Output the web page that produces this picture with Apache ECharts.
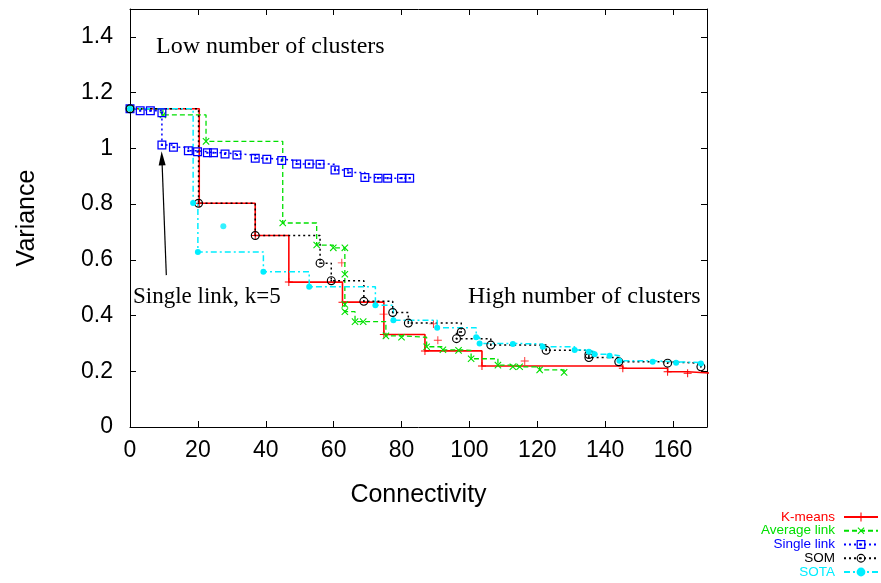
<!DOCTYPE html>
<html>
<head>
<meta charset="utf-8">
<script src="https://cdn.jsdelivr.net/npm/echarts@6/dist/echarts.min.js"></script>
<style>
  html, body { margin: 0; padding: 0; background: #fff; }
  #chart { width: 881px; height: 583px; }
</style>
</head>
<body>
<div id="chart"></div>
<script>
// step curves (x = connectivity, y = variance)
const kmX = [0, 20.4, 36.9, 46.8, 62.6, 74.8, 86.9, 103.7, 145.2, 158.4, 164.3, 172];
const kmY = [1.142, 0.803, 0.687, 0.520, 0.448, 0.332, 0.273, 0.219, 0.211, 0.198, 0.193, 0.193];
const kmExtraX = [62.4, 74.7, 89.4, 90.7, 116.3];
const kmExtraY = [0.589, 0.405, 0.370, 0.311, 0.237];

const avgX = [0, 9.7, 22.4, 45.0, 55.0, 59.9, 63.3, 63.3, 63.3, 63.3, 66.3, 68.7, 75.4, 80.0, 87.4, 92.2, 96.8, 100.5, 108.4, 112.8, 114.8, 120.7, 127.9];
const avgY = [1.142, 1.12, 1.025, 0.732, 0.653, 0.643, 0.643, 0.548, 0.440, 0.414, 0.378, 0.378, 0.327, 0.322, 0.288, 0.277, 0.275, 0.245, 0.222, 0.216, 0.216, 0.205, 0.196];

const slX = [0, 3.0, 6.0, 9.4, 9.4, 12.8, 17.2, 19.9, 22.8, 24.6, 28.0, 31.5, 36.9, 40.3, 44.7, 49.1, 52.8, 56.0, 60.4, 64.3, 69.2, 73.1, 75.9, 80.0, 82.4];
const slY = [1.142, 1.135, 1.135, 1.128, 1.012, 1.004, 0.991, 0.988, 0.984, 0.984, 0.980, 0.976, 0.964, 0.961, 0.956, 0.944, 0.944, 0.943, 0.922, 0.913, 0.895, 0.893, 0.893, 0.893, 0.893];

const somX = [0, 20.2, 36.9, 56.0, 59.3, 68.9, 77.4, 82.0, 97.6, 96.2, 106.3, 122.6, 135.2, 135.2, 144.0, 158.4, 168.2];
const somY = [1.142, 0.803, 0.687, 0.588, 0.525, 0.451, 0.411, 0.373, 0.341, 0.317, 0.294, 0.275, 0.260, 0.249, 0.234, 0.229, 0.216];

const sotaX = [0, 18.6, 20.0, 39.3, 52.8, 72.3, 77.6, 90.5, 102.0, 103.0, 112.8, 121.6, 131.0, 135.2, 136.9, 141.3, 144.2, 154.0, 160.9, 168.2];
const sotaY = [1.142, 0.804, 0.628, 0.557, 0.503, 0.437, 0.383, 0.356, 0.322, 0.300, 0.298, 0.288, 0.276, 0.270, 0.261, 0.256, 0.238, 0.234, 0.231, 0.228];
const sotaExtraX = [27.5];
const sotaExtraY = [0.720];

// arrow for the "Single link, k=5" note: tail then head
const arrowX = [10.7, 9.4];
const arrowY = [0.545, 0.964];

const names = ['K-means', 'Average link', 'Single link', 'SOM', 'SOTA'];

const pts = (xs, ys) => xs.map((x, i) => [x, ys[i]]);

const plusPath = 'path://M4.4,0H5.6V4.4H10V5.6H5.6V10H4.4V5.6H0V4.4H4.4Z';
const squarePath = 'path://M0,0H10V10H0ZM1.4,1.4V8.6H8.6V1.4ZM3.8,3.8H6.2V6.2H3.8Z';
const circlePath = 'path://M10,5A5,5,0,1,1,0,5A5,5,0,1,1,10,5ZM8.7,5A3.7,3.7,0,1,0,1.3,5A3.7,3.7,0,1,0,8.7,5ZM6,5A1,1,0,1,1,4,5A1,1,0,1,1,6,5Z';

const RED = '#ff0000', GREEN = '#00e000', BLUE = '#0000ff', BLACK = '#000000', CYAN = '#00eeff';
const colors = [RED, GREEN, BLUE, BLACK, CYAN];
const sans = 'Liberation Sans, Arial, Helvetica, sans-serif';
const serif = 'Liberation Serif, Times New Roman, serif';

const chart = echarts.init(document.getElementById('chart'));

const stepSeries = (name, data, color, type, symbol, size, width, rotate) => ({
    name: name,
    type: 'line',
    step: 'end',
    data: data,
    symbol: symbol,
    symbolSize: size,
    symbolRotate: rotate || 0,
    showAllSymbol: true,
    clip: true,
    lineStyle: { color: color, width: width, type: type },
    itemStyle: { color: color, borderWidth: 0 },
    emphasis: { disabled: true },
    animation: false
});

const extraSeries = (name, data, color, symbol, size, rotate) => ({
    name: name,
    type: 'scatter',
    data: data,
    symbol: symbol,
    symbolSize: size,
    symbolRotate: rotate || 0,
    itemStyle: { color: color },
    emphasis: { disabled: true },
    animation: false
});

const xBase = {
    type: 'value', min: 0, max: 170, interval: 20,
    axisLine: { onZero: false, lineStyle: { color: '#000', width: 1 } },
    axisTick: { inside: true, length: 6, lineStyle: { color: '#000' } },
    splitLine: { show: false }
};
const yBase = {
    type: 'value', min: 0, max: 1.5, interval: 0.2,
    axisLine: { onZero: false, lineStyle: { color: '#000', width: 1 } },
    axisTick: { inside: true, length: 6, lineStyle: { color: '#000' } },
    splitLine: { show: false }
};

// one small legend per entry so the rows sit as tightly as in the original
const legends = names.map((n, i) => ({
    orient: 'vertical',
    right: 2,
    top: 510 + i * 13.75,
    align: 'right',
    itemWidth: 34,
    itemHeight: 11,
    padding: 0,
    selectedMode: false,
    textStyle: { fontFamily: sans, fontSize: 13.5, color: colors[i], padding: [0, 4, 0, 0] },
    data: [n]
}));

chart.setOption({
    backgroundColor: '#fff',
    animation: false,
    grid: { left: 130, right: 174, top: 9, bottom: 156, containLabel: false },
    xAxis: [
        Object.assign({}, xBase, {
            position: 'bottom',
            name: 'Connectivity', nameLocation: 'middle', nameGap: 56,
            nameTextStyle: { fontFamily: sans, fontSize: 25, color: '#000' },
            axisLabel: { fontFamily: sans, fontSize: 23, color: '#000', margin: 12, showMaxLabel: false }
        }),
        Object.assign({}, xBase, { position: 'top', axisLabel: { show: false } })
    ],
    yAxis: [
        Object.assign({}, yBase, {
            position: 'left',
            name: 'Variance', nameLocation: 'middle', nameGap: 90,
            nameTextStyle: { fontFamily: sans, fontSize: 25, color: '#000' },
            axisLabel: { fontFamily: sans, fontSize: 23, color: '#000', margin: 17, showMaxLabel: false }
        }),
        Object.assign({}, yBase, { position: 'right', axisLabel: { show: false } })
    ],
    legend: legends,
    series: [
        stepSeries(names[0], pts(kmX, kmY), RED, 'solid', plusPath, 8, 1.6),
        stepSeries(names[1], pts(avgX, avgY), GREEN, [5, 3], plusPath, 9, 1.3, 45),
        Object.assign(stepSeries(names[2], pts(slX, slY), BLUE, [2, 3], squarePath, 9, 1.5), {
            markLine: {
                silent: true,
                animation: false,
                symbol: ['none', 'triangle'],
                symbolSize: [7, 14],
                label: { show: false },
                lineStyle: { color: '#000', width: 1.2, type: 'solid' },
                data: [[
                    { coord: [arrowX[0], arrowY[0]] },
                    { coord: [arrowX[1], arrowY[1]] }
                ]]
            }
        }),
        stepSeries(names[3], pts(somX, somY), BLACK, [2, 3], circlePath, 9, 1.5),
        stepSeries(names[4], pts(sotaX, sotaY), CYAN, [6, 3, 2, 3], 'circle', 6, 1.5),
        extraSeries(names[0], pts(kmExtraX, kmExtraY), RED, plusPath, 8),
        extraSeries(names[4], pts(sotaExtraX, sotaExtraY), CYAN, 'circle', 6)
    ],
    graphic: [
        { type: 'text', left: 156, top: 35, silent: true,
          style: { text: 'Low number of clusters', font: '24px ' + serif, fill: '#000' } },
        { type: 'text', left: 468, top: 285, silent: true,
          style: { text: 'High number of clusters', font: '24px ' + serif, fill: '#000' } },
        { type: 'text', left: 133, top: 285, silent: true,
          style: { text: 'Single link, k=5', font: '23px ' + serif, fill: '#000' } }
    ]
});

window.addEventListener('resize', () => chart.resize());
</script>
</body>
</html>
